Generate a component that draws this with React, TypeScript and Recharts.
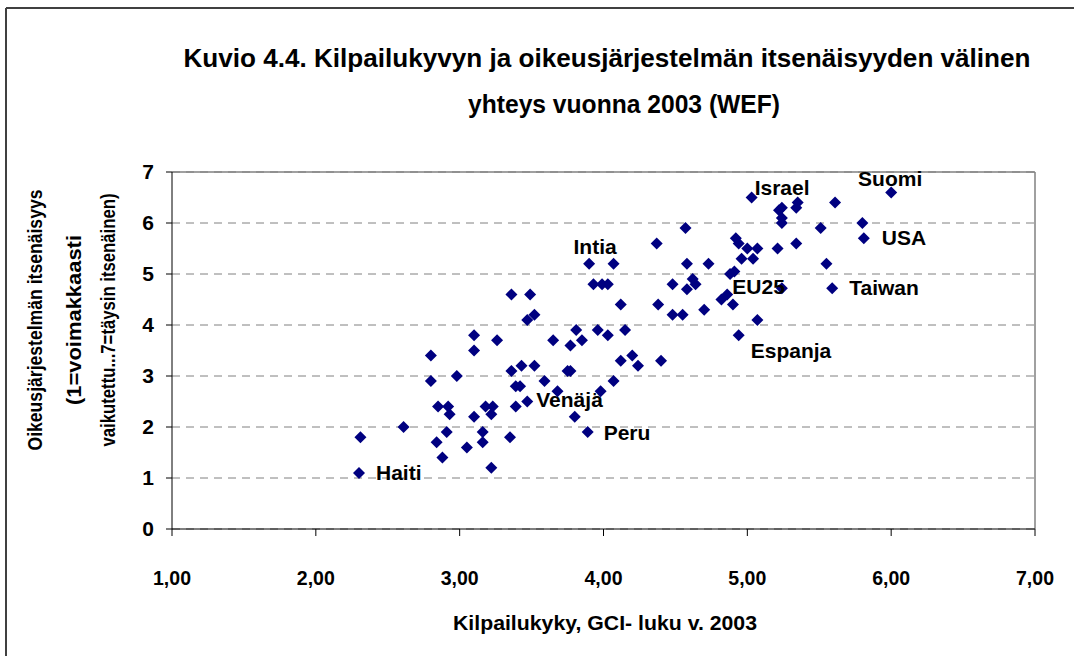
import { CartesianGrid, ReferenceLine, Scatter, ScatterChart, XAxis, YAxis } from "recharts";

// GCI-indeksi (x) ja oikeusjärjestelmän itsenäisyys (y), luettu kuvasta
const gci = [
  2.31, 2.3, 2.61, 2.8, 2.8, 2.85, 2.84, 2.88, 2.92, 2.93, 2.91, 2.98, 3.05, 3.1, 3.1, 3.1, 3.18,
  3.23, 3.22, 3.16, 3.16, 3.22, 3.26, 3.36, 3.49, 3.47, 3.52, 3.36, 3.43, 3.52, 3.39, 3.42, 3.39,
  3.47, 3.35, 3.59, 3.65, 3.68, 3.75, 3.77, 3.77, 3.81, 3.85, 3.8, 3.89, 3.9, 4.07, 3.93, 3.99,
  4.03, 3.96, 4.03, 3.98, 4.07, 4.12, 4.15, 4.12, 4.2, 4.24, 4.37, 4.38, 4.4, 4.48, 4.48, 4.55,
  4.57, 4.58, 4.58, 4.62, 4.64, 4.7, 4.73, 4.82, 4.86, 4.88, 4.91, 4.9, 4.92, 4.94, 4.96, 5.0,
  5.04, 5.07, 5.03, 4.94, 5.07, 5.21, 5.24, 5.22, 5.24, 5.24, 5.35, 5.34, 5.34, 5.24, 5.51, 5.55,
  5.59, 5.61, 5.8, 5.81, 6.0,
];
const independence = [
  1.8, 1.1, 2.0, 3.4, 2.9, 2.4, 1.7, 1.4, 2.4, 2.25, 1.9, 3.0, 1.6, 3.8, 3.5, 2.2, 2.4,
  2.4, 2.25, 1.9, 1.7, 1.2, 3.7, 4.6, 4.6, 4.1, 4.2, 3.1, 3.2, 3.2, 2.8, 2.8, 2.4,
  2.5, 1.8, 2.9, 3.7, 2.7, 3.1, 3.1, 3.6, 3.9, 3.7, 2.2, 1.9, 5.2, 5.2, 4.8, 4.8,
  4.8, 3.9, 3.8, 2.7, 2.9, 4.4, 3.9, 3.3, 3.4, 3.2, 5.6, 4.4, 3.3, 4.8, 4.2, 4.2,
  5.9, 5.2, 4.7, 4.9, 4.8, 4.3, 5.2, 4.5, 4.6, 5.0, 5.05, 4.4, 5.7, 5.6, 5.3, 5.5,
  5.3, 5.5, 6.5, 3.8, 4.1, 5.5, 6.3, 6.25, 6.1, 6.0, 6.4, 6.3, 5.6, 4.72, 5.9, 5.2,
  4.72, 6.4, 6.0, 5.7, 6.6,
];
// nimetyt maat: indeksi -> nimi
const countryNames: Record<number, string> = {
  1: "Haiti",
  33: "Venäjä",
  44: "Peru",
  45: "Intia",
  83: "Israel",
  84: "Espanja",
  94: "EU25",
  97: "Taiwan",
  100: "USA",
  101: "Suomi",
};
const xTicks = [1, 2, 3, 4, 5, 6, 7];
const yTicks = [0, 1, 2, 3, 4, 5, 6, 7];

const points = gci.map((x, i) => ({ x, y: independence[i], name: countryNames[i] ?? "" }));

const labelPlacement: Record<string, { dx: number; dy: number; anchor: "start" | "middle" | "end" }> = {
  Haiti: { dx: 17, dy: 0, anchor: "start" },
  "Venäjä": { dx: 9, dy: -2, anchor: "start" },
  Peru: { dx: 16, dy: 0, anchor: "start" },
  Intia: { dx: 6, dy: -17, anchor: "middle" },
  Israel: { dx: 3, dy: -10, anchor: "start" },
  Espanja: { dx: 12, dy: 15, anchor: "start" },
  EU25: { dx: 3, dy: -2, anchor: "end" },
  Taiwan: { dx: 17, dy: -1, anchor: "start" },
  USA: { dx: 18, dy: -1, anchor: "start" },
  Suomi: { dx: -1, dy: -14, anchor: "middle" },
};

const FONT = "'Liberation Sans', Arial, sans-serif";
const NAVY = "#000080";

const Diamond = (props: any) => {
  const { cx, cy, payload } = props;
  const r = 6;
  const place = payload?.name ? labelPlacement[payload.name] : undefined;
  return (
    <g>
      <polygon
        points={`${cx},${cy - r} ${cx + r},${cy} ${cx},${cy + r} ${cx - r},${cy}`}
        fill={NAVY}
      />
      {place && (
        <text
          x={cx + place.dx}
          y={cy + place.dy}
          textAnchor={place.anchor}
          dominantBaseline="central"
          fontFamily={FONT}
          fontWeight="bold"
          fontSize={21}
          fill="#000"
        >
          {payload.name}
        </text>
      )}
    </g>
  );
};

const XTick = (props: any) => {
  const { x, y, payload } = props;
  return (
    <text
      x={x}
      y={y}
      dy="0.71em"
      textAnchor="middle"
      fontFamily={FONT}
      fontWeight="bold"
      fontSize={21}
      fill="#000"
      textLength={38}
      lengthAdjust="spacingAndGlyphs"
    >
      {Number(payload.value).toFixed(2).replace(".", ",")}
    </text>
  );
};

const App = () => {
  return (
    <div style={{ position: "absolute", left: 0, top: 0, width: 1074, height: 656, background: "#fff" }}>
      <ScatterChart width={1074} height={656} margin={{ top: 172, right: 39, bottom: 67, left: 112 }}>
        <CartesianGrid vertical={false} stroke="#808080" strokeDasharray="8 6" />
        <XAxis
          type="number"
          dataKey="x"
          domain={[1, 7]}
          ticks={xTicks}
          height={60}
          tickSize={7}
          tickMargin={34}
          stroke="#000"
          tick={<XTick />}
        />
        <YAxis
          type="number"
          dataKey="y"
          domain={[0, 7]}
          ticks={yTicks}
          width={60}
          tickSize={6}
          tickMargin={12}
          stroke="#000"
          tick={{ fill: "#000", fontFamily: FONT, fontWeight: "bold", fontSize: 21 }}
        />
        <ReferenceLine y={7} stroke="#808080" strokeWidth={1.5} />
        <ReferenceLine x={7} stroke="#808080" strokeWidth={1.5} />
        <Scatter data={points} shape={Diamond} isAnimationActive={false} />
      </ScatterChart>
      <svg
        width={1074}
        height={656}
        style={{ position: "absolute", left: 0, top: 0, pointerEvents: "none" }}
        fontFamily={FONT}
        fontWeight="bold"
      >
        <line x1={6} y1={8} x2={1074} y2={8} stroke="#000" strokeWidth={1.5} />
        <line x1={6} y1={8} x2={6} y2={656} stroke="#404040" strokeWidth={2} />
        <text
          x={607}
          y={58}
          textAnchor="middle"
          dominantBaseline="central"
          fontSize={26}
          textLength={847}
          lengthAdjust="spacingAndGlyphs"
        >
          Kuvio 4.4. Kilpailukyvyn ja oikeusjärjestelmän itsenäisyyden välinen
        </text>
        <text
          x={624}
          y={104}
          textAnchor="middle"
          dominantBaseline="central"
          fontSize={26}
          textLength={312}
          lengthAdjust="spacingAndGlyphs"
        >
          yhteys vuonna 2003 (WEF)
        </text>
        <text
          x={605}
          y={622}
          textAnchor="middle"
          dominantBaseline="central"
          fontSize={21}
          textLength={304}
          lengthAdjust="spacingAndGlyphs"
        >
          Kilpailukyky, GCI- luku v. 2003
        </text>
        {[
          { x: 35, t: "Oikeusjärjestelmän itsenäisyys", w: 261 },
          { x: 74, t: "(1=voimakkaasti", w: 170 },
          { x: 108, t: "vaikutettu...7=täysin itsenäinen)", w: 253 },
        ].map((l) => (
          <text
            key={l.t}
            x={l.x}
            y={320}
            textAnchor="middle"
            dominantBaseline="central"
            fontSize={20}
            textLength={l.w}
            lengthAdjust="spacingAndGlyphs"
            transform={`rotate(-90 ${l.x} 320)`}
          >
            {l.t}
          </text>
        ))}
      </svg>
    </div>
  );
};

export default App;
